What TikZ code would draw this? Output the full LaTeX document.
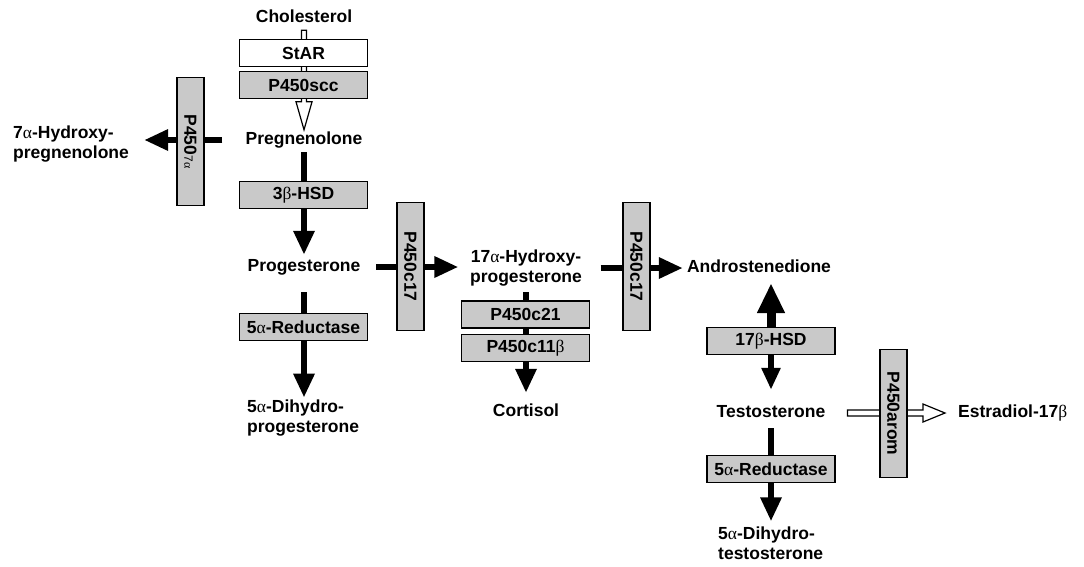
\documentclass[tikz,border=0pt]{standalone}
\usepackage{fontspec}
\setmainfont{Liberation Sans}
\newfontfamily\grk{Liberation Serif}
\newcommand{\ga}{{\grk\mdseries α}}
\newcommand{\gb}{{\grk\mdseries β}}
\usetikzlibrary{arrows.meta,backgrounds,calc}
\definecolor{boxgray}{HTML}{C9C9C9}
\begin{document}
\begin{tikzpicture}[x=1pt,y=-1pt,
  every node/.style={font=\fontsize{17.5}{20}\selectfont\bfseries, inner sep=0pt},
  txt/.style={text height=12.5pt, text depth=3.5pt},
  mtxt/.style={align=left},
  ctxt/.style={align=center},
  hbox/.style={draw, line width=1.5pt, fill=boxgray, minimum width=128pt, minimum height=27pt},
  vbox/.style={hbox, rotate=-90},
  wbox/.style={hbox, fill=white},
  thick arrow/.style={line width=6pt, -{Triangle[length=24pt,width=20pt]}},
  big arrow/.style={line width=9pt, -{Triangle[length=30pt,width=26pt]}},
  small arrow/.style={line width=6pt, -{Triangle[length=22pt,width=18pt]}},
  hollowarr/.style={draw, line width=1.2pt, fill=white, line join=miter}
]
\useasboundingbox (0,0) rectangle (1084,566);

% text nodes
\node[txt] (chol) at (304,18) {Cholesterol};
\node[txt] (preg) at (304,140) {Pregnenolone};
\node[mtxt, anchor=west] (hyd) at (13,144) {7\ga-Hydroxy-\\pregnenolone};
\node[txt] (prog) at (304,267) {Progesterone};
\node[mtxt, anchor=west] (dhp) at (247,418) {5\ga-Dihydro-\\progesterone};
\node[ctxt] (ohp) at (526,268) {17\ga-Hydroxy-\\progesterone};
\node[txt] (cort) at (526,412) {Cortisol};
\node[txt] (andro) at (759,268) {Androstenedione};
\node[txt] (testo) at (771,413) {Testosterone};
\node[mtxt, anchor=west] (dht) at (718,543) {5\ga-Dihydro-\\testosterone};
\node[txt, anchor=west] (estr) at (958,413) {Estradiol-17\gb};

% enzyme boxes
\node[wbox] (star) at (303.5,53) {StAR};
\node[hbox] (scc) at (303.5,85) {P450scc};
\node[vbox] (p7a) at (190.5,141.5) {P450{\fontsize{12}{12}\selectfont\mdseries 7{\grk α}}};
\node[hbox] (hsd3) at (303.5,195) {3\gb-HSD};
\node[hbox] (red1) at (303.5,327) {5\ga-Reductase};
\node[vbox] (c17a) at (410.5,266.5) {P450c17};
\node[hbox] (c21) at (525.5,314.5) {P450c21};
\node[hbox] (c11) at (525.5,348) {P450c11\gb};
\node[vbox] (c17b) at (636.5,266.5) {P450c17};
\node[hbox] (hsd17) at (771,341) {17\gb-HSD};
\node[hbox] (red2) at (771,469) {5\ga-Reductase};
\node[vbox] (arom) at (893.5,413.5) {P450arom};

\begin{scope}[on background layer]
  % Cholesterol -> Pregnenolone (hollow)
  \draw[hollowarr] let \p1=(chol.south), \p2=(preg.north) in
    (\x1-2.5pt,\y1-4pt) -- (\x1-2.5pt,\y2+30pt) -- (\x1-8pt,\y2+30pt) -- (\x1,\y2+2pt)
    -- (\x1+8pt,\y2+30pt) -- (\x1+2.5pt,\y2+30pt) -- (\x1+2.5pt,\y1-4pt) -- cycle;
  % Pregnenolone -> 7a-hydroxy
  \draw[thick arrow, shorten <=23pt, shorten >=15pt] (preg.west) -- (preg.west -| hyd.east);
  % Pregnenolone -> Progesterone
  \draw[thick arrow, shorten <=4pt, shorten >=4pt] (preg.south) -- (prog.north);
  % Progesterone -> 5a-dihydroprogesterone
  \draw[thick arrow, shorten <=17pt, shorten >=2pt] (prog.south) -- (prog.south |- dhp.north);
  % Progesterone -> 17a-OH-progesterone
  \draw[thick arrow, shorten <=15.5pt, shorten >=11.5pt] (prog.east) -- (prog.east -| ohp.west);
  % 17a-OHP -> Cortisol
  \draw[thick arrow, shorten <=6pt, shorten >=11pt] (ohp.south) -- (cort.north);
  % 17a-OHP -> Androstenedione
  \draw[thick arrow, shorten <=18.5pt, shorten >=4pt] (ohp.east) -- (ohp.east -| andro.west);
  % 17b-HSD -> Androstenedione (big)
  \draw[big arrow, shorten >=7pt] (hsd17.north) -- (hsd17.north |- andro.south);
  % 17b-HSD -> Testosterone
  \draw[small arrow, shorten >=15pt] (hsd17.south) -- (testo.north);
  % Testosterone -> DHT
  \draw[thick arrow, shorten <=7pt, shorten >=5pt] (testo.south) -- (testo.south |- dht.north);
  % Testosterone -> Estradiol (hollow)
  \draw[hollowarr] let \p1=(testo.east), \p2=(estr.west) in
    (\x1+22pt,\y1-3pt) -- (\x2-35pt,\y1-3pt) -- (\x2-35pt,\y1-9pt) -- (\x2-13pt,\y1)
    -- (\x2-35pt,\y1+9pt) -- (\x2-35pt,\y1+3pt) -- (\x1+22pt,\y1+3pt) -- cycle;
\end{scope}
\end{tikzpicture}
\end{document}
